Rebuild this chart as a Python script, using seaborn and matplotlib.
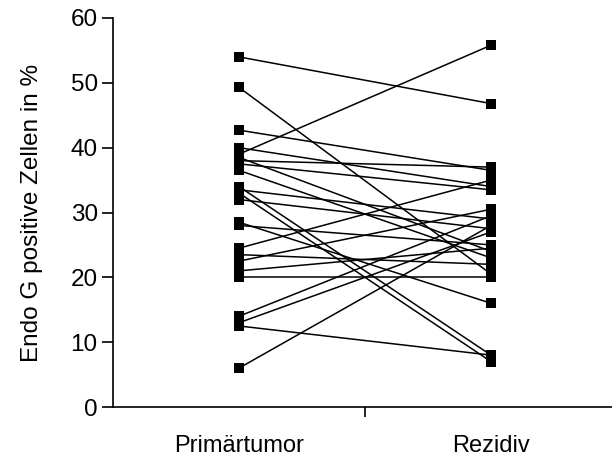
import matplotlib
matplotlib.use("Agg")
import matplotlib.pyplot as plt
import seaborn as sns
import pandas as pd

categories = ["Primärtumor", "Rezidiv"]
primaer = [54.0, 49.3, 42.7, 40.0, 39.0, 38.5, 38.0, 37.5, 36.5, 34.0, 33.5, 33.0,
           32.0, 28.5, 28.0, 24.5, 23.5, 22.5, 21.0, 20.0, 14.0, 13.0, 12.5, 6.0]
rezidiv = [46.8, 20.5, 36.5, 34.0, 55.8, 24.0, 37.0, 33.5, 23.0, 8.0, 29.0, 7.0,
           27.5, 16.0, 25.0, 35.0, 22.0, 30.5, 24.5, 20.0, 29.5, 27.0, 8.0, 28.0]
y_ticks = [0, 10, 20, 30, 40, 50, 60]
y_label = "Endo G positive Zellen in %"

rows = []
for i, (a, b) in enumerate(zip(primaer, rezidiv)):
    rows.append({"id": i, "group": categories[0], "value": a})
    rows.append({"id": i, "group": categories[1], "value": b})
df = pd.DataFrame(rows)
df["x"] = df["group"].map({c: k for k, c in enumerate(categories)})

sns.set_style("white")
plt.rcParams["font.family"] = ["Liberation Sans", "DejaVu Sans"]
plt.rcParams["text.color"] = "black"
plt.rcParams["axes.labelcolor"] = "black"
plt.rcParams["xtick.color"] = "black"
plt.rcParams["ytick.color"] = "black"

fig = plt.figure(figsize=(6.12, 4.58), dpi=100)
ax = fig.add_axes([113 / 612, 51 / 458, (612 - 113) / 612, 389 / 458])

sns.lineplot(data=df, x="x", y="value", units="id", estimator=None,
             color="black", linewidth=1.1, marker="s", markersize=7.5,
             markeredgewidth=0, ax=ax, legend=False)

ax.set_xlim(-0.5, 1.48)
ax.set_ylim(0, 60)
ax.set_yticks(y_ticks)
ax.set_yticklabels([str(t) for t in y_ticks], fontsize=17.5)
ax.set_xticks([0, 1])
ax.set_xticklabels(categories, fontsize=17)
ax.set_xticks([0.5], minor=True)
ax.tick_params(axis="x", which="major", length=0, pad=20)
ax.tick_params(axis="x", which="minor", length=7, width=1.2, direction="out", color="black", bottom=True)
ax.tick_params(axis="y", which="major", length=8, width=1.2, direction="out", color="black", left=True, pad=3)
ax.set_xlabel("")
ax.set_ylabel(y_label, fontsize=17.5, labelpad=20)

for s in ["top", "right"]:
    ax.spines[s].set_visible(False)
for s in ["left", "bottom"]:
    ax.spines[s].set_color("black")
    ax.spines[s].set_linewidth(1.2)

fig.savefig("out.png", dpi=100)
